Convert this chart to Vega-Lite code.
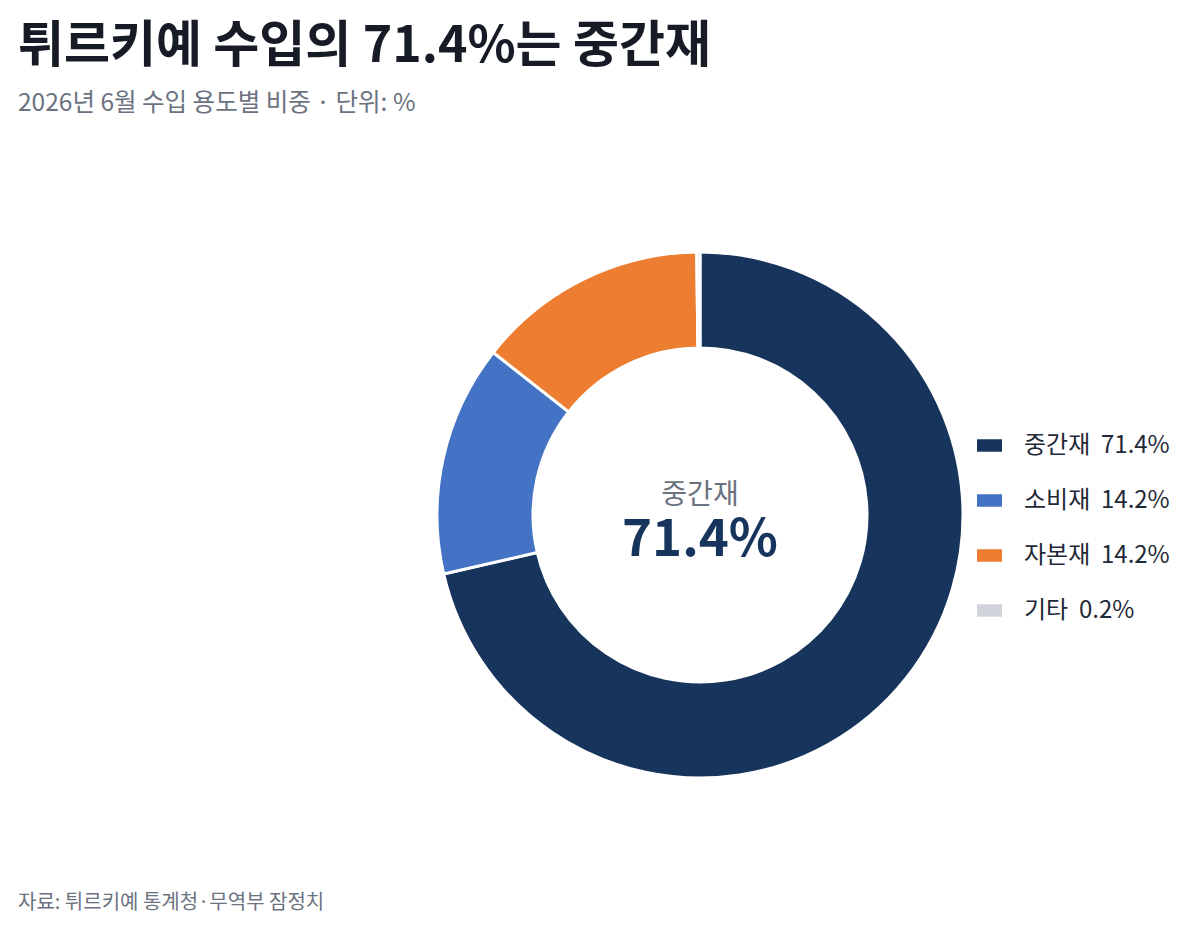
{
  "$schema": "https://vega.github.io/schema/vega-lite/v6.json",
  "width": 1164,
  "height": 770,
  "autosize": {"type": "none"},
  "padding": {"left": 18, "top": 130, "right": 18, "bottom": 31},
  "background": "white",
  "title": {
    "text": "튀르키예 수입의 71.4%는 중간재",
    "subtitle": "2026년 6월 수입 용도별 비중 · 단위: %",
    "anchor": "start",
    "frame": "group",
    "font": "Noto Sans CJK KR",
    "fontSize": 50,
    "fontWeight": "bold",
    "color": "#161b26",
    "subtitleFont": "Noto Sans CJK KR",
    "subtitleFontSize": 24.5,
    "subtitleColor": "#6b7280",
    "subtitlePadding": 20,
    "offset": 15
  },
  "data": {
    "values": [
      {"category": "중간재", "share": 71.4},
      {"category": "소비재", "share": 14.2},
      {"category": "자본재", "share": 14.2},
      {"category": "기타", "share": 0.2}
    ]
  },
  "transform": [
    {"calculate": "indexof(['중간재', '소비재', '자본재', '기타'], datum.category)", "as": "idx"},
    {"calculate": "datum.category + '\u00a0\u00a0' + format(datum.share, '.1f') + '%'", "as": "legendLabel"}
  ],
  "layer": [
    {
      "mark": {
        "type": "arc",
        "outerRadius": 263,
        "innerRadius": 167,
        "stroke": "white",
        "strokeWidth": 3,
        "x": {"expr": "width / 2 + 100"},
        "y": {"expr": "height / 2"}
      },
      "encoding": {
        "theta": {"field": "share", "type": "quantitative", "stack": true},
        "order": {"field": "idx", "type": "quantitative", "sort": "ascending"},
        "color": {
          "field": "legendLabel",
          "type": "nominal",
          "sort": {"field": "idx", "op": "min"},
          "scale": {"range": ["#17355c", "#4472c4", "#ed7d31", "#d1d5db"]},
          "legend": {
            "title": null,
            "orient": "none",
            "legendX": 959,
            "legendY": 303,
            "padding": 0,
            "symbolType": "M-1,-0.5H1V0.5H-1Z",
            "symbolSize": 625,
            "symbolStrokeWidth": 0,
            "labelFont": "Noto Sans CJK KR",
            "labelFontSize": 24,
            "labelColor": "#1f2937",
            "labelOffset": 22,
            "labelLimit": 300,
            "rowPadding": 30
          }
        }
      }
    },
    {
      "transform": [{"filter": "datum.category == '중간재'"}],
      "mark": {
        "type": "text",
        "font": "Noto Sans CJK KR",
        "fontSize": 28,
        "color": "#6b7280",
        "baseline": "middle",
        "align": "center",
        "dy": -19,
        "x": {"expr": "width / 2 + 100"},
        "y": {"expr": "height / 2"}
      },
      "encoding": {"text": {"field": "category", "type": "nominal"}}
    },
    {
      "transform": [
        {"filter": "datum.category == '중간재'"},
        {"calculate": "format(datum.share, '.1f') + '%'", "as": "pct"}
      ],
      "mark": {
        "type": "text",
        "font": "Noto Sans CJK KR",
        "fontSize": 51,
        "fontWeight": "bold",
        "color": "#17355c",
        "baseline": "middle",
        "align": "center",
        "dy": 26,
        "x": {"expr": "width / 2 + 100"},
        "y": {"expr": "height / 2"}
      },
      "encoding": {"text": {"field": "pct", "type": "nominal"}}
    },
    {
      "data": {"values": [{"note": "자료: 튀르키예 통계청·무역부 잠정치"}]},
      "mark": {
        "type": "text",
        "font": "Noto Sans CJK KR",
        "fontSize": 20,
        "color": "#6b7280",
        "baseline": "middle",
        "align": "left",
        "dy": 3,
        "x": 0,
        "y": {"expr": "height"}
      },
      "encoding": {"text": {"field": "note", "type": "nominal"}}
    }
  ],
  "config": {
    "font": "Noto Sans CJK KR",
    "view": {"stroke": null}
  }
}
